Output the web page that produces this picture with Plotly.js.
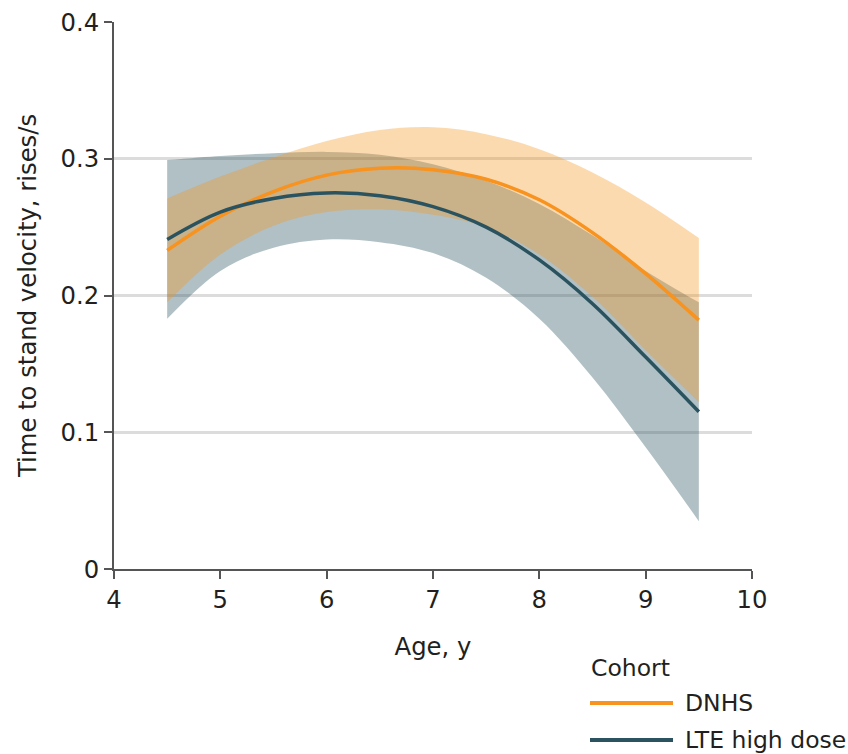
<!DOCTYPE html>
<html>
<head>
<meta charset="utf-8">
<script src="https://cdn.plot.ly/plotly-3.0.1.min.js"></script>
<style>html,body{margin:0;padding:0;background:#fff;}#chart{width:848px;height:754px;}</style>
</head>
<body>
<div id="chart"></div>
<script>
// Age, years
const ages = [4.5, 5, 5.5, 6, 6.5, 7, 7.5, 8, 8.5, 9, 9.5];
// DNHS cohort
const dnhs      = [0.233, 0.258, 0.276, 0.288, 0.293, 0.292, 0.285, 0.270, 0.246, 0.216, 0.182];
const dnhsUpper = [0.271, 0.287, 0.301, 0.313, 0.321, 0.323, 0.318, 0.307, 0.290, 0.268, 0.242];
const dnhsLower = [0.195, 0.230, 0.251, 0.261, 0.263, 0.259, 0.250, 0.230, 0.199, 0.160, 0.122];
// LTE high dose cohort
const lte      = [0.241, 0.261, 0.271, 0.275, 0.273, 0.265, 0.250, 0.226, 0.194, 0.155, 0.115];
const lteUpper = [0.299, 0.302, 0.304, 0.305, 0.303, 0.296, 0.284, 0.267, 0.244, 0.218, 0.195];
const lteLower = [0.183, 0.218, 0.235, 0.241, 0.239, 0.231, 0.213, 0.183, 0.140, 0.089, 0.035];

const xTicks = [4, 5, 6, 7, 8, 9, 10];
const yTicks = [0, 0.1, 0.2, 0.3, 0.4];
const yTickText = ['0', '0.1', '0.2', '0.3', '0.4'];
const seriesNames = ['DNHS', 'LTE high dose'];
const legendTitle = 'Cohort';

const orange = '#F7931E';
const teal = '#2B535F';
const FONT = 'DejaVu Sans, sans-serif';
const txt = '#231F20';

const traces = [
  {x: ages, y: lteLower, mode: 'lines', line: {width: 0, shape: 'spline'}, hoverinfo: 'skip', showlegend: false},
  {x: ages, y: lteUpper, mode: 'lines', line: {width: 0, shape: 'spline'}, fill: 'tonexty', fillcolor: 'rgba(43,83,95,0.37)', hoverinfo: 'skip', showlegend: false},
  {x: ages, y: dnhsLower, mode: 'lines', line: {width: 0, shape: 'spline'}, hoverinfo: 'skip', showlegend: false},
  {x: ages, y: dnhsUpper, mode: 'lines', line: {width: 0, shape: 'spline'}, fill: 'tonexty', fillcolor: 'rgba(247,148,30,0.35)', hoverinfo: 'skip', showlegend: false},
  {x: ages, y: dnhs, mode: 'lines', name: seriesNames[0], line: {color: orange, width: 3.5, shape: 'spline'}, showlegend: false},
  {x: ages, y: lte, mode: 'lines', name: seriesNames[1], line: {color: teal, width: 3.5, shape: 'spline'}, showlegend: false}
];

// legend drawn in paper coordinates
const px2x = p => (p - 114) / 638;
const px2y = p => (569 - p) / 547;

const layout = {
  width: 848, height: 754,
  margin: {l: 114, r: 96, t: 22, b: 185},
  paper_bgcolor: '#fff', plot_bgcolor: '#fff',
  font: {family: FONT, size: 24, color: txt},
  showlegend: false,
  xaxis: {
    range: [4, 10], tickvals: xTicks, ticktext: xTicks.map(String),
    showgrid: false, zeroline: false,
    showline: true, linecolor: '#555', linewidth: 2,
    ticks: 'outside', ticklen: 8, tickwidth: 2, tickcolor: '#555',
    tickfont: {family: FONT, size: 24.3, color: txt},
    title: {text: 'Age, y', font: {family: FONT, size: 24.3, color: txt}, standoff: 25}
  },
  yaxis: {
    range: [0, 0.4], tickvals: yTicks, ticktext: yTickText,
    showgrid: true, gridcolor: '#DCDCDC', gridwidth: 3, zeroline: false,
    showline: true, linecolor: '#555', linewidth: 2,
    ticks: 'outside', ticklen: 8, tickwidth: 2, tickcolor: '#555',
    tickfont: {family: FONT, size: 24.3, color: txt},
    title: {text: 'Time to stand velocity, rises/s', font: {family: FONT, size: 24.3, color: txt}, standoff: 17}
  },
  shapes: [
    {type: 'line', xref: 'paper', yref: 'paper', x0: px2x(590), x1: px2x(673), y0: px2y(703), y1: px2y(703), line: {color: orange, width: 4}},
    {type: 'line', xref: 'paper', yref: 'paper', x0: px2x(590), x1: px2x(673), y0: px2y(740), y1: px2y(740), line: {color: teal, width: 4}}
  ],
  annotations: [
    {xref: 'paper', yref: 'paper', x: px2x(589), y: px2y(668), text: legendTitle, showarrow: false, xanchor: 'left', yanchor: 'middle', font: {family: FONT, size: 23.5, color: txt}},
    {xref: 'paper', yref: 'paper', x: px2x(683), y: px2y(703), text: seriesNames[0], showarrow: false, xanchor: 'left', yanchor: 'middle', font: {family: FONT, size: 23.5, color: txt}},
    {xref: 'paper', yref: 'paper', x: px2x(683), y: px2y(740), text: seriesNames[1], showarrow: false, xanchor: 'left', yanchor: 'middle', font: {family: FONT, size: 23.5, color: txt}}
  ]
};

Plotly.newPlot('chart', traces, layout, {staticPlot: true, displayModeBar: false});
</script>
</body>
</html>
